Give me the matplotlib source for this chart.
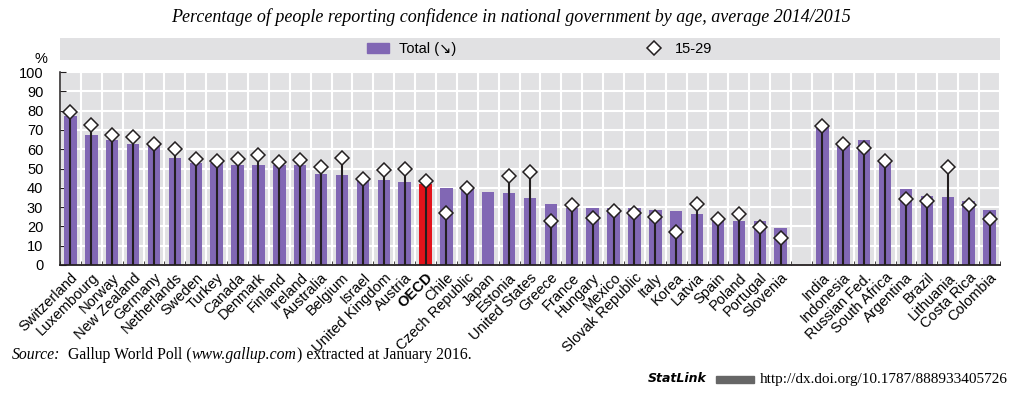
import matplotlib
matplotlib.use('Agg')
import matplotlib.pyplot as plt
import numpy as np
from matplotlib.patches import Rectangle
from matplotlib.lines import Line2D

# Dane: kraje OECD (z średnią OECD) i kraje partnerskie
oecd_countries = ['Switzerland', 'Luxembourg', 'Norway', 'New Zealand', 'Germany', 'Netherlands',
                  'Sweden', 'Turkey', 'Canada', 'Denmark', 'Finland', 'Ireland', 'Australia',
                  'Belgium', 'Israel', 'United Kingdom', 'Austria', 'OECD', 'Chile',
                  'Czech Republic', 'Japan', 'Estonia', 'United States', 'Greece', 'France',
                  'Hungary', 'Mexico', 'Slovak Republic', 'Italy', 'Korea', 'Latvia', 'Spain',
                  'Poland', 'Portugal', 'Slovenia']
oecd_total = [77.2, 67.6, 64.6, 62.9, 61.9, 55.5, 52.9, 52.9, 52.0, 52.0, 51.7, 51.7, 47.0,
              46.5, 44.8, 44.1, 43.2, 42.2, 39.9, 39.2, 38.0, 37.5, 34.9, 31.4, 29.5,
              29.5, 29.6, 29.5, 28.7, 28.0, 26.4, 23.7, 23.0, 22.6, 19.2]
oecd_youth = [79.1, 72.6, 67.2, 66.4, 62.6, 60.3, 55.0, 54.1, 55.0, 57.2, 53.4, 54.4, 51.0,
              55.5, 44.8, 49.1, 49.9, 43.5, 26.8, 40.1, np.nan, 46.3, 48.4, 23.0, 31.1,
              24.4, 28.2, 27.0, 24.9, 17.1, 31.4, 23.7, 26.4, 19.5, 14.2]

partner_countries = ['India', 'Indonesia', 'Russian Fed.', 'South Africa', 'Argentina',
                     'Brazil', 'Lithuania', 'Costa Rica', 'Colombia']
partner_total = [71.7, 62.6, 64.6, 54.8, 39.6, 35.8, 35.4, 33.0, 28.5]
partner_youth = [72.2, 62.7, 60.5, 54.1, 34.4, 33.2, 50.6, 30.9, 23.7]

yticks = [0, 10, 20, 30, 40, 50, 60, 70, 80, 90, 100]

purple = '#8167b4'
red = '#e3131b'
bg = '#e1e1e3'
dark = '#231f20'

sans = ['Liberation Sans Narrow', 'Liberation Sans', 'DejaVu Sans']
plt.rcParams['font.family'] = sans

# Pozycje słupków (przerwa między OECD a partnerami)
x_oecd = np.arange(len(oecd_countries))
x_partner = np.arange(len(partner_countries)) + len(oecd_countries) + 1
xs = np.concatenate([x_oecd, x_partner])
labels = oecd_countries + partner_countries
total = np.array(oecd_total + partner_total)
youth = np.array(oecd_youth + partner_youth)
colors = [red if c == 'OECD' else purple for c in labels]
n_slots = len(oecd_countries) + 1 + len(partner_countries)

fig = plt.figure(figsize=(10.23, 3.96), dpi=100)
ax = fig.add_axes([60 / 1023, 131 / 396, 940 / 1023, 193 / 396])
ax.set_facecolor(bg)

ax.bar(xs, total, width=0.6, color=colors, zorder=2)
ok = ~np.isnan(youth)
ax.vlines(xs[ok], 0, youth[ok], color=dark, lw=1.5, zorder=3)
ax.plot(xs[ok], youth[ok], linestyle='none', marker='D', markersize=7.5,
        markerfacecolor='white', markeredgecolor=dark, markeredgewidth=1.1, zorder=4)

ax.set_xlim(-0.5, n_slots - 0.5)
ax.set_ylim(0, 100)
ax.set_yticks(yticks)
ax.set_xticks(xs)
ax.set_xticklabels(labels, rotation=45, ha='right', rotation_mode='anchor', fontsize=10.5)
for t in ax.get_xticklabels():
    if t.get_text() == 'OECD':
        t.set_fontweight('bold')
ax.tick_params(axis='x', length=0, pad=4)
ax.tick_params(axis='y', direction='in', length=4, color=dark, labelsize=10.5, pad=12)

# Siatka: linie pionowe na granicach kategorii, poziome co 10
ax.set_xticks(np.arange(-0.5, n_slots, 1), minor=True)
ax.tick_params(axis='x', which='minor', direction='in', length=3, color=dark)
ax.grid(True, which='minor', axis='x', color='white', lw=1.5, zorder=1)
ax.grid(True, which='major', axis='y', color='white', lw=1.5, zorder=1)
ax.set_axisbelow(True)

for s in ['top', 'right']:
    ax.spines[s].set_visible(False)
ax.spines['left'].set_color(dark)
ax.spines['bottom'].set_color(dark)
ax.spines['left'].set_linewidth(1.1)
ax.spines['bottom'].set_linewidth(1.3)

ax.text(-0.013, 1.03, '%', transform=ax.transAxes, ha='right', va='bottom', fontsize=10.5)

# Pasek legendy
lax = fig.add_axes([60 / 1023, 336 / 396, 940 / 1023, 22 / 396])
lax.set_facecolor(bg)
lax.set_xticks([])
lax.set_yticks([])
for s in lax.spines.values():
    s.set_visible(False)
handles = [Rectangle((0, 0), 1, 1, color=purple),
           Line2D([], [], linestyle='none', marker='D', markersize=7,
                  markerfacecolor='white', markeredgecolor=dark, markeredgewidth=1.1)]
lax.legend(handles, ['Total (\u2198)', '15-29'], loc='center', ncol=2, frameon=False,
           fontsize=10.5, columnspacing=12.8, handlelength=1.5, handletextpad=0.7,
           borderaxespad=0, borderpad=0, bbox_to_anchor=(0.51, 0.5))

# Tytuł
fig.text(511 / 1023, 1 - 17 / 396, 'Percentage of people reporting confidence in national government by age, average 2014/2015',
         ha='center', va='center', fontsize=13, style='italic', family='Liberation Serif')

# Źródło
t1 = fig.text(12 / 1023, 1 - 355 / 396, 'Source:', ha='left', va='center', fontsize=11.3,
              style='italic', family='Liberation Serif')
t2 = ax.annotate('  Gallup World Poll (', xy=(1, 0), xycoords=t1, ha='left', va='bottom',
                 fontsize=11.3, family='Liberation Serif', annotation_clip=False)
t3 = ax.annotate('www.gallup.com', xy=(1, 0), xycoords=t2, ha='left', va='bottom',
                 fontsize=11.3, style='italic', family='Liberation Serif', annotation_clip=False)
ax.annotate(') extracted at January 2016.', xy=(1, 0), xycoords=t3, ha='left', va='bottom',
            fontsize=11.3, family='Liberation Serif', annotation_clip=False)

# StatLink
fig.text(648 / 1023, 1 - 379 / 396, 'StatLink', ha='left', va='center', fontsize=9,
         style='italic', weight='bold', family='DejaVu Sans')
fig.patches.append(Rectangle((716 / 1023, 1 - 383 / 396), 38 / 1023, 7 / 396,
                             transform=fig.transFigure, color='#666666'))
fig.text(1008 / 1023, 1 - 379 / 396, 'http://dx.doi.org/10.1787/888933405726', ha='right',
         va='center', fontsize=11, family='Liberation Serif')

plt.savefig('out.png', dpi=100)
